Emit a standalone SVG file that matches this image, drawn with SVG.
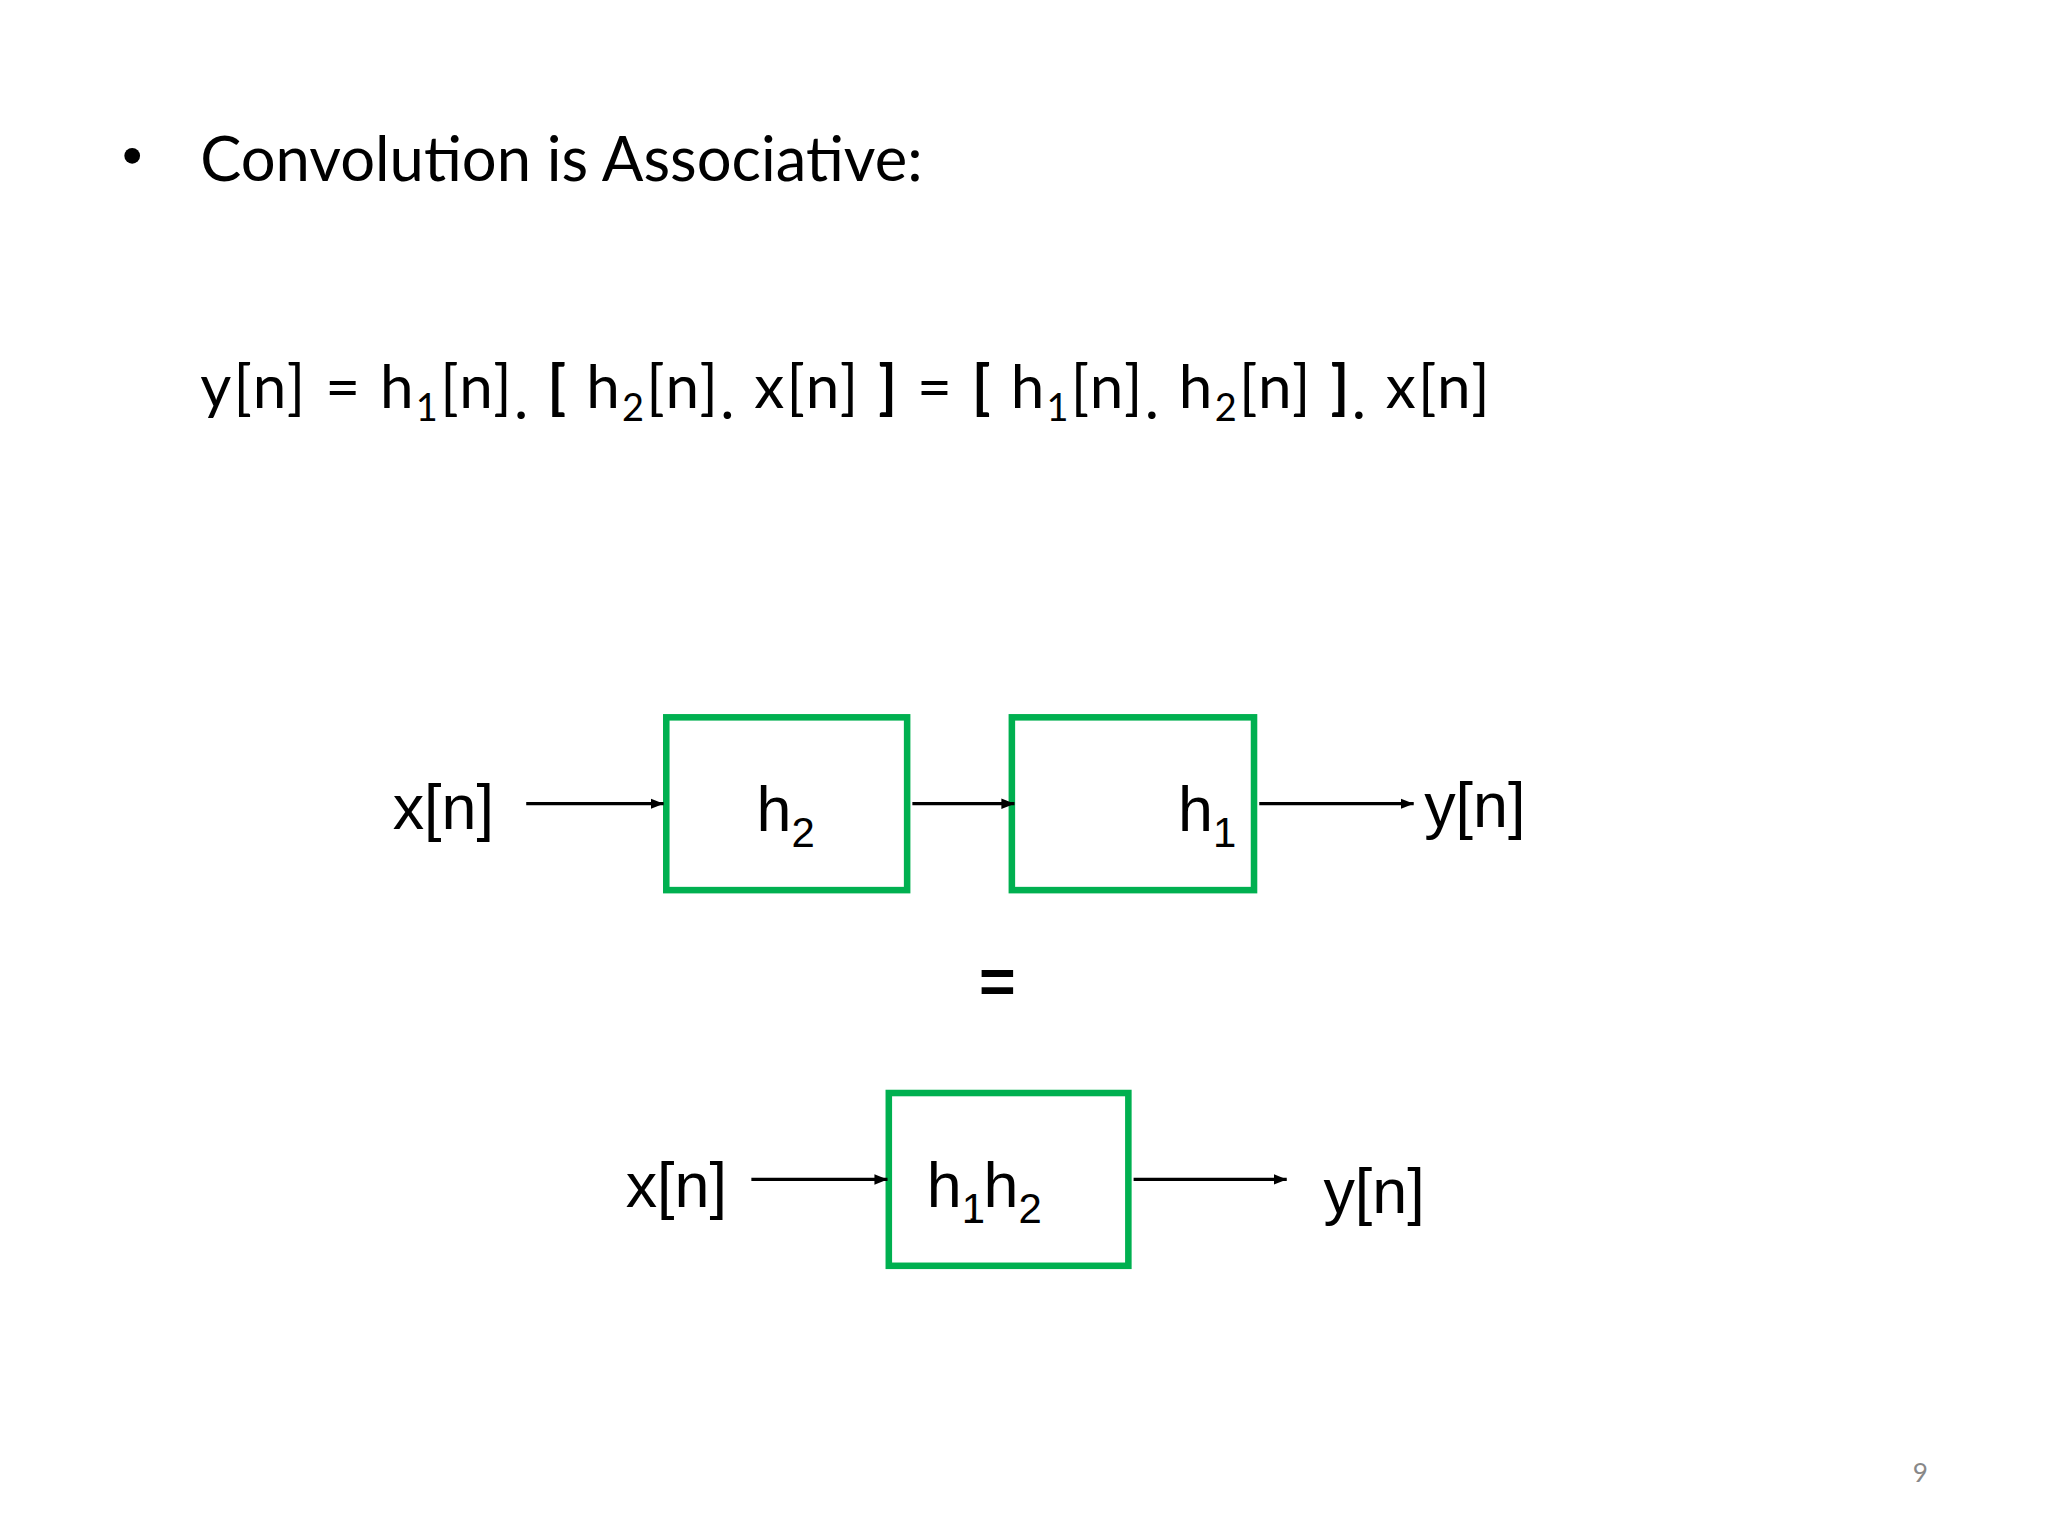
<svg xmlns="http://www.w3.org/2000/svg" width="2048" height="1536" viewBox="0 0 2048 1536">
<defs>
<marker id="ah" viewBox="0 0 10 10" refX="10" refY="5" markerWidth="4" markerHeight="4" orient="auto"><path d="M0,1 L10,5 L0,9 z" fill="#000"/></marker>
<style>
.c{font-family:Lato,"Open Sans",sans-serif;fill:#000}
.a{font-family:"Liberation Sans",Arial,sans-serif;fill:#000;font-size:48px}
.box{fill:none;stroke:#00b050;stroke-width:5}
.ln{stroke:#000;stroke-width:2.5;fill:none;marker-end:url(#ah)}
</style>
</defs>
<rect width="2048" height="1536" fill="#fff"/>
<g transform="scale(1.309)">
<g id="title">
<circle cx="101" cy="119" r="6" fill="#000"/>
<text class="c" x="153" y="138" font-size="47">Convolution is Associative:</text>
</g>
<g id="equation">
<text class="c" x="153" y="312" font-size="46" textLength="985" lengthAdjust="spacing">y[n] = h<tspan font-size="29" dy="10">1</tspan><tspan dy="-10">[n]</tspan><tspan dy="8">.</tspan><tspan dy="-8" font-weight="bold"> [</tspan> h<tspan font-size="29" dy="10">2</tspan><tspan dy="-10">[n]</tspan><tspan dy="8">.</tspan><tspan dy="-8"> x[n] </tspan><tspan font-weight="bold">]</tspan>  =  <tspan font-weight="bold">[</tspan> h<tspan font-size="29" dy="10">1</tspan><tspan dy="-10">[n]</tspan><tspan dy="8">.</tspan><tspan dy="-8"> h</tspan><tspan font-size="29" dy="10">2</tspan><tspan dy="-10">[n] </tspan><tspan font-weight="bold">]</tspan><tspan dy="8">.</tspan><tspan dy="-8"> x[n]</tspan></text>
</g>
<g id="in1"><text class="a" x="300" y="633">x[n]</text></g>
<g id="h2box"><rect class="box" x="509" y="548" width="184" height="132"/><text class="a" x="578" y="635">h<tspan font-size="32" dy="12">2</tspan></text></g>
<g id="h1box"><rect class="box" x="773" y="548" width="185" height="132"/><text class="a" x="900" y="635">h<tspan font-size="32" dy="12">1</tspan></text></g>
<g id="out1"><text class="a" x="1088" y="632">y[n]</text></g>
<g id="eq"><text class="a" x="762" y="766" text-anchor="middle" font-weight="bold">=</text></g>
<g id="in2"><text class="a" x="478" y="922">x[n]</text></g>
<g id="h12box"><rect class="box" x="679" y="835" width="183" height="132"/><text class="a" x="708" y="922">h<tspan font-size="32" dy="12">1</tspan><tspan font-size="32" dx="-14">.</tspan><tspan dy="-12" dx="4">h</tspan><tspan font-size="32" dy="12">2</tspan></text></g>
<g id="out2"><text class="a" x="1011" y="927">y[n]</text></g>
<g id="connectors">
<line class="ln" x1="402" y1="614" x2="507" y2="614"/>
<line class="ln" x1="697" y1="614" x2="775" y2="614"/>
<line class="ln" x1="962" y1="614" x2="1080" y2="614"/>
<line class="ln" x1="574" y1="901" x2="678" y2="901"/>
<line class="ln" x1="866" y1="901" x2="983" y2="901"/>
</g>
<text x="1467" y="1132" font-family="Lato,sans-serif" font-size="20" fill="#888" text-anchor="middle">9</text>
</g>
</svg>
